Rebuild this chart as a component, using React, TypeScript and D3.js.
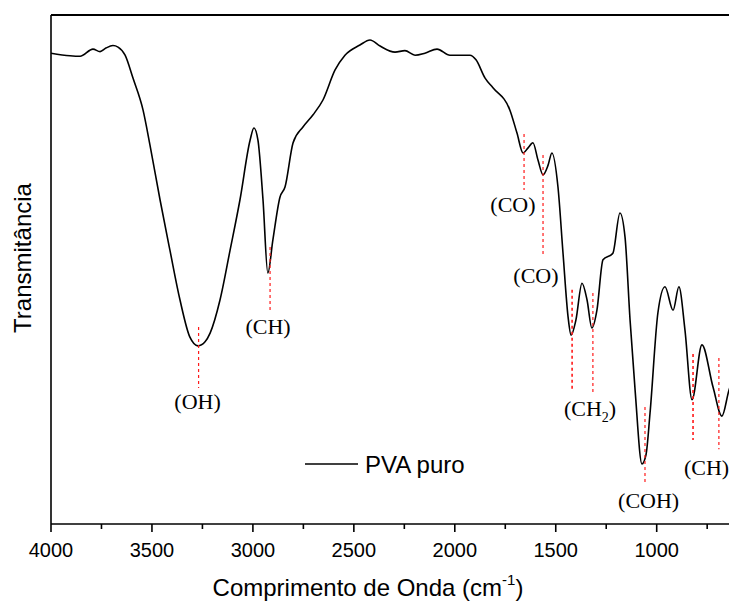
import React from "react";
import * as d3 from "d3";

// FTIR spectrum of pure PVA film: wavenumber (cm-1) vs. transmittance (a.u.)
const wavenumber = [
  4000, 3906, 3856, 3792, 3757, 3728, 3693, 3668, 3633, 3594, 3544, 3510, 3460, 3411,
  3361, 3312, 3272, 3237, 3212, 3163, 3113, 3064, 3014, 2995, 2975, 2950, 2926, 2901,
  2866, 2841, 2801, 2752, 2702, 2653, 2593, 2544, 2470, 2420, 2370, 2296, 2247, 2197,
  2148, 2088, 2024, 1925, 1895, 1850, 1811, 1727, 1692, 1662, 1637, 1613, 1588, 1563,
  1538, 1519, 1489, 1464, 1439, 1424, 1400, 1370, 1345, 1321, 1296, 1266, 1217, 1182,
  1157, 1132, 1107, 1073, 1053, 1033, 994, 959, 919, 890, 860, 825, 776, 721, 677, 642, 602,
];
const transmittance = [
  92.5, 92.0, 91.9, 93.3, 92.8, 93.5, 94.0, 93.7, 92.1, 87.6, 81.3, 74.5, 63.7, 53.8,
  44.0, 36.7, 35.0, 35.8, 37.5, 44.0, 53.8, 63.7, 75.4, 77.8, 75.4, 63.7, 49.3, 55.8,
  64.2, 66.2, 74.9, 78.0, 80.4, 83.3, 89.2, 92.1, 94.1, 95.1, 93.9, 92.7, 93.0, 92.1,
  92.5, 93.3, 92.1, 92.1, 91.2, 87.6, 85.7, 81.3, 76.8, 72.9, 73.9, 74.9, 71.5, 68.6,
  70.5, 72.9, 66.2, 53.2, 40.7, 37.1, 40.1, 47.3, 44.0, 38.5, 42.0, 51.9, 53.2, 61.1,
  56.4, 40.1, 26.3, 11.8, 13.6, 21.8, 41.5, 46.6, 42.0, 46.6, 38.1, 24.4, 35.2, 26.9, 21.2, 26.3, 30.0,
];

// Band assignments: marker position, marker extent (transmittance) and label
const bandWavenumber = [3269, 2915, 1657, 1563, 1419, 1316, 1058, 820, 692];
const bandTop = [38.7, 54.4, 76.6, 72.5, 46.0, 45.4, 23.0, 33.4, 32.6];
const bandBottom = [26.7, 42.0, 65.6, 52.7, 26.1, 25.7, 7.7, 16.5, 14.7];
const bandWidth = [1.2, 1.2, 1.2, 1.2, 1.6, 1.2, 1.2, 1.6, 1.2];

const labelText = ["(OH)", "(CH)", "(CO)", "(CO)", "(CH", "(COH)", "(CH)"];
const labelSub = ["", "", "", "", "2", "", ""];
const labelWavenumber = [3274, 2925, 1712, 1598, 1330, 1040, 865];
const labelT = [22.5, 37.4, 61.3, 47.3, 21.2, 3.1, 9.6];
const labelAnchor = ["middle", "middle", "middle", "middle", "middle", "middle", "start"];

const xTicks = [4000, 3500, 3000, 2500, 2000, 1500, 1000];
const xMinorTicks = [3750, 3250, 2750, 2250, 1750, 1250, 750];

const W = 729;
const H = 601;
const left = 51;
const top = 15;
const bottom = 524;

const sans = "'Liberation Sans', Arial, sans-serif";
const serif = "'Liberation Serif', 'Times New Roman', serif";

export default function App() {
  const x = d3.scaleLinear().domain([4000, 600]).range([left, left + 3400 * 0.2019]);
  const y = d3.scaleLinear().domain([0, 100]).range([bottom, top]);

  const pts = wavenumber.map((w, i) => [w, transmittance[i]] as [number, number]);
  const line = d3
    .line<[number, number]>()
    .x((d) => x(d[0]))
    .y((d) => y(d[1]))
    .curve(d3.curveMonotoneX);

  return (
    <svg
      width={W}
      height={H}
      style={{ position: "absolute", left: 0, top: 0, background: "#fff" }}
    >
      <defs>
        <clipPath id="plot">
          <rect x={left} y={top} width={W - left} height={bottom - top} />
        </clipPath>
      </defs>

      <g clipPath="url(#plot)">
        <path d={line(pts) ?? ""} fill="none" stroke="#000" strokeWidth={1.6} />
        {bandWavenumber.map((w, i) => (
          <line
            key={i}
            x1={x(w)}
            x2={x(w)}
            y1={y(bandTop[i])}
            y2={y(bandBottom[i])}
            stroke="#ff1a1a"
            strokeWidth={bandWidth[i]}
            strokeDasharray="3,3"
          />
        ))}
      </g>

      {labelText.map((t, i) => (
        <text
          key={i}
          x={x(labelWavenumber[i])}
          y={y(labelT[i])}
          textAnchor={labelAnchor[i]}
          fontFamily={serif}
          fontSize={22}
          fill="#000"
        >
          {labelSub[i] ? (
            <>
              {t}
              <tspan fontSize={14} dy={6}>
                {labelSub[i]}
              </tspan>
              <tspan dy={-6}>)</tspan>
            </>
          ) : (
            t
          )}
        </text>
      ))}

      {/* frame */}
      <line x1={left} x2={W} y1={top} y2={top} stroke="#000" strokeWidth={2} />
      <line x1={left} x2={left} y1={top} y2={bottom} stroke="#000" strokeWidth={1.6} />
      <line x1={left} x2={W} y1={bottom} y2={bottom} stroke="#000" strokeWidth={1.6} />

      {/* x axis ticks */}
      {xTicks.map((t) => (
        <g key={t}>
          <line x1={x(t)} x2={x(t)} y1={bottom} y2={bottom + 8} stroke="#000" strokeWidth={1.6} />
          <text
            x={x(t)}
            y={557}
            textAnchor="middle"
            fontFamily={sans}
            fontSize={20}
            fill="#000"
          >
            {t}
          </text>
        </g>
      ))}
      {xMinorTicks.map((t) => (
        <line key={t} x1={x(t)} x2={x(t)} y1={bottom} y2={bottom + 5} stroke="#000" strokeWidth={1.6} />
      ))}

      {/* axis titles */}
      <text x={368} y={596} textAnchor="middle" fontFamily={sans} fontSize={24} fill="#000">
        Comprimento de Onda (cm
        <tspan fontSize={15} dy={-11}>
          -1
        </tspan>
        <tspan dy={11}>)</tspan>
      </text>
      <text
        transform={`translate(31, 258) rotate(-90)`}
        textAnchor="middle"
        fontFamily={sans}
        fontSize={24}
        fill="#000"
      >
        Transmitância
      </text>

      {/* legend */}
      <line x1={305} x2={358} y1={464} y2={464} stroke="#000" strokeWidth={1.6} />
      <text x={365} y={473} fontFamily={sans} fontSize={24} fill="#000">
        PVA puro
      </text>
    </svg>
  );
}
